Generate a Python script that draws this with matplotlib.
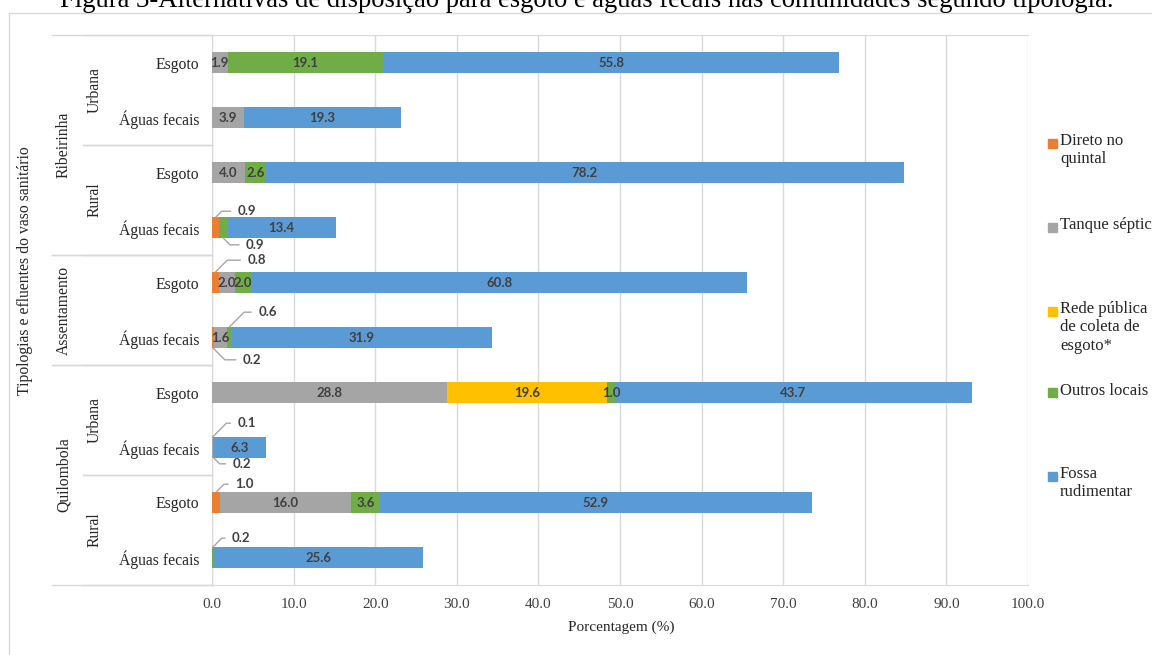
import matplotlib.pyplot as plt
from matplotlib.lines import Line2D
from matplotlib.patches import Rectangle

W, H = 1152, 655

title = ("Figura 3-Alternativas de disposição para esgoto e águas fecais "
         "nas comunidades segundo tipologia.")

# category axis (top to bottom)
efluentes = ["Esgoto", "Águas fecais"] * 5
tipologias = ["Ribeirinha", "Assentamento", "Quilombola"]
tipologia_rows = [(0, 3), (4, 5), (6, 9)]
zonas = ["Urbana", "Rural", "Urbana", "Rural"]
zona_rows = [(0, 1), (2, 3), (6, 7), (8, 9)]

series = ["Direto no\nquintal", "Tanque séptico",
          "Rede pública\nde coleta de\nesgoto*", "Outros locais",
          "Fossa\nrudimentar"]
colors = ["#ED7D31", "#A5A5A5", "#FFC000", "#70AD47", "#5B9BD5"]

direto = [0, 0, 0, 0.9, 0.8, 0.2, 0, 0, 1.0, 0]
tanque = [1.9, 3.9, 4.0, 0, 2.0, 1.6, 28.8, 0.1, 16.0, 0.6]
rede = [0, 0, 0, 0, 0, 0, 19.6, 0, 0, 0]
outros = [19.1, 0, 2.6, 0.9, 2.0, 0.6, 1.0, 0.2, 3.6, 0.2]
fossa = [55.8, 19.3, 78.2, 13.4, 60.8, 31.9, 43.7, 6.3, 52.9, 25.6]
values = [direto, tanque, rede, outros, fossa]

# small segments labelled with leader lines: (row, series) -> (edge, dx px, dy px)
callouts = {
    (3, 0): ("top", 22, 6), (3, 3): ("bottom", 23, -7),
    (4, 0): ("top", 32, 12),
    (5, 3): ("top", 29, 15), (5, 0): ("bottom", 30, -12),
    (7, 1): ("top", 25, 14), (7, 3): ("bottom", 19, -6),
    (8, 0): ("top", 19, 8),
    (9, 3): ("top", 19, 9),
}
hidden = {(9, 1)}

SERIF = "Liberation Serif"
GRID = "#d9d9d9"
LABEL = "#404040"
TEXT = "#262626"
BAR_H = 0.375


def fx(px):
    return px / W


def fy(py):
    return 1 - py / H


fig = plt.figure(figsize=(W / 100, H / 100), dpi=100)
ax = fig.add_axes([fx(212), fy(585), fx(1028 - 212), (585 - 35) / H])

# chart frame
fig.add_artist(Line2D([fx(9), fx(9)], [fy(12.7), 0], color=GRID, lw=1))
fig.add_artist(Line2D([fx(9), 1], [fy(12.7), fy(12.7)], color=GRID, lw=1))

fig.text(0.509, fy(7), title, ha="center", va="baseline",
         family=SERIF, fontsize=19.2, color="black")

rows = range(len(efluentes))
left = [0.0] * len(efluentes)
for s, (vals, c) in enumerate(zip(values, colors)):
    ax.barh(rows, vals, left=left, height=BAR_H, color=c, zorder=3)
    for r, v in enumerate(vals):
        if v <= 0 or (r, s) in hidden:
            continue
        xc = left[r] + v / 2
        if (r, s) in callouts:
            edge, dx, dy = callouts[(r, s)]
            y0 = r - BAR_H / 2 if edge == "top" else r + BAR_H / 2
            ax.annotate(f"{v:.1f}", xy=(xc, y0), xytext=(dx, dy),
                        textcoords="offset pixels", ha="left", va="center",
                        fontsize=9.5, fontweight="bold", family="Lato",
                        color=LABEL, annotation_clip=False,
                        arrowprops=dict(arrowstyle="-", color="#a6a6a6", lw=1,
                                        shrinkA=3, shrinkB=0,
                                        relpos=(0, 0.5),
                                        connectionstyle="angle,angleA=0,angleB="
                                        + ("45" if edge == "top" else "-45")
                                        + ",rad=0"))
        else:
            ax.text(xc, r, f"{v:.1f}", ha="center", va="center",
                    fontsize=9.5, fontweight="bold", family="Lato",
                    color=LABEL, zorder=4)
        left[r] += v

ax.set_xlim(0, 100)
ax.set_ylim(len(efluentes) - 0.5, -0.5)
ax.set_xticks(range(0, 101, 10))
ax.set_xticklabels([f"{t:.1f}" for t in range(0, 101, 10)],
                   family=SERIF, fontsize=11, color="#404040")
ax.set_yticks(list(rows))
ax.set_yticklabels(efluentes, family=SERIF, fontsize=11.3, color=TEXT)
ax.tick_params(axis="both", length=0)
ax.tick_params(axis="x", pad=9)
ax.tick_params(axis="y", pad=9)
ax.grid(axis="x", color=GRID, lw=1, zorder=0)
ax.set_axisbelow(True)
for side in ["left", "right", "top", "bottom"]:
    ax.spines[side].set_color(GRID)
ax.spines["right"].set_visible(False)

# multi-level category axis
trans = ax.get_yaxis_transform()
x_l1 = (52 - 212) / (1028 - 212)
x_l2 = (83 - 212) / (1028 - 212)
for name, (a, b) in zip(tipologias, tipologia_rows):
    ax.text((64 - 212) / (1028 - 212), (a + b) / 2, name, transform=trans,
            rotation=90, ha="center", va="center", family=SERIF,
            fontsize=11.3, color=TEXT, clip_on=False)
    for yb in (a - 0.5, b + 0.5):
        ax.add_line(Line2D([x_l1, 0], [yb, yb], transform=trans, color=GRID,
                           lw=1, clip_on=False))
for name, (a, b) in zip(zonas, zona_rows):
    ax.text((95 - 212) / (1028 - 212), (a + b) / 2, name, transform=trans,
            rotation=90, ha="center", va="center", family=SERIF,
            fontsize=11.3, color=TEXT, clip_on=False)
    for yb in (a - 0.5, b + 0.5):
        ax.add_line(Line2D([x_l2, 0], [yb, yb], transform=trans, color=GRID,
                           lw=1, clip_on=False))

fig.text(fx(25), fy(271), "Tipologias e efluentes do vaso sanitário",
         rotation=90, ha="center", va="center", family=SERIF, fontsize=11.3,
         color=TEXT)
fig.text(fx(621), fy(627), "Porcentagem (%)", ha="center", va="center",
         family=SERIF, fontsize=11, color=TEXT)

# legend
legend_y = [143, 227, 311, 393, 476]
for name, c, yy in zip(series, colors, legend_y):
    fig.add_artist(Rectangle((fx(1048), fy(yy + 4.5)), fx(9), 9 / H,
                             color=c, transform=fig.transFigure))
    fig.text(fx(1060), fy(yy - 10), name, ha="left", va="top", family=SERIF,
             fontsize=12, color=TEXT, linespacing=1.2)

fig.savefig("out.png", dpi=100)
